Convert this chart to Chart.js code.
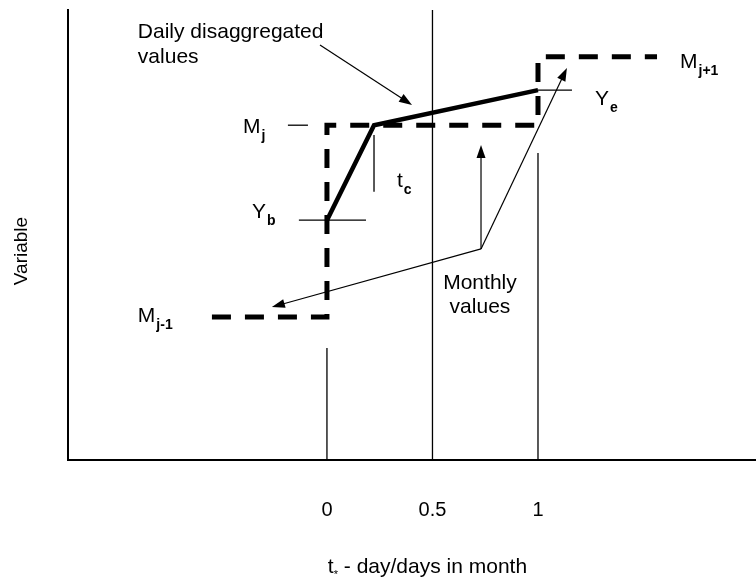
<!DOCTYPE html>
<html>
<head>
<meta charset="utf-8">
<script src="https://cdn.jsdelivr.net/npm/chart.js@4.4.1/dist/chart.umd.min.js"></script>
<style>
  html, body { margin: 0; padding: 0; background: #fff; }
  #wrap { width: 756px; height: 582px; }
</style>
</head>
<body>
<div id="wrap"><canvas id="disaggChart"></canvas></div>
<script>
// t = fraction of month, v = variable (arbitrary units)
const tickValues = [0, 0.5, 1];

const monthlyT = [-0.545, 0, 0, 1, 1, 1.564];
const monthlyV = [3.18, 3.18, 7.44, 7.44, 8.96, 8.96];

const dailyT = [0, 0.223, 1];
const dailyV = [5.33, 7.44, 8.22];

// thin guide segments
const guideT = [[0, 0], [0.5, 0.5], [1, 1], [-0.185, -0.09], [-0.133, 0.185], [0.223, 0.223], [1, 1.161]];
const guideV = [[0, 2.49], [0, 10], [0, 6.82], [7.44, 7.44], [5.33, 5.33], [7.22, 5.96], [8.22, 8.22]];

// arrows: [fromT, fromV, toT, toV]
const arrows = [
  [-0.033, 9.22, 0.403, 7.89],
  [0.730, 4.69, 0.730, 7.0],
  [0.730, 4.69, -0.261, 3.40],
  [0.730, 4.69, 1.137, 8.71]
];

// labels: text, subscript, t, v, align
const labels = [
  ['Daily disaggregated', '', -0.896, 9.38, 'left'],
  ['values', '', -0.896, 8.82, 'left'],
  ['M', 'j', -0.398, 7.27, 'left'],
  ['Y', 'b', -0.355, 5.38, 'left'],
  ['t', 'c', 0.332, 6.07, 'left'],
  ['Y', 'e', 1.270, 7.89, 'left'],
  ['M', 'j+1', 1.673, 8.71, 'left'],
  ['M', 'j-1', -0.896, 3.07, 'left'],
  ['Monthly', '', 0.725, 3.80, 'center'],
  ['values', '', 0.725, 3.27, 'center']
];

const FONT = '"Liberation Sans", Arial, sans-serif';

function toPoints(ts, vs) {
  return ts.map((t, i) => ({ x: t, y: vs[i] }));
}

const datasets = [
  {
    data: toPoints(monthlyT, monthlyV),
    borderColor: '#000',
    borderWidth: 5,
    borderDash: [19, 14],
    borderCapStyle: 'butt',
    borderJoinStyle: 'miter'
  },
  {
    data: toPoints(dailyT, dailyV),
    borderColor: '#000',
    borderWidth: 4.5,
    borderJoinStyle: 'miter'
  }
];
guideT.forEach((ts, i) => {
  datasets.push({
    data: toPoints(ts, guideV[i]),
    borderColor: '#000',
    borderWidth: 1.3
  });
});

const annotations = {
  id: 'annotations',
  afterDraw(chart) {
    const ctx = chart.ctx;
    const xs = chart.scales.x, ys = chart.scales.y;
    ctx.save();
    ctx.strokeStyle = '#000';
    ctx.fillStyle = '#000';
    ctx.lineWidth = 1.2;

    arrows.forEach(a => {
      const x1 = xs.getPixelForValue(a[0]), y1 = ys.getPixelForValue(a[1]);
      const x2 = xs.getPixelForValue(a[2]), y2 = ys.getPixelForValue(a[3]);
      const ang = Math.atan2(y2 - y1, x2 - x1);
      const len = 13, half = 4.5;
      ctx.beginPath();
      ctx.moveTo(x1, y1);
      ctx.lineTo(x2 - Math.cos(ang) * len * 0.8, y2 - Math.sin(ang) * len * 0.8);
      ctx.stroke();
      ctx.beginPath();
      ctx.moveTo(x2, y2);
      ctx.lineTo(x2 - Math.cos(ang) * len - Math.sin(ang) * half, y2 - Math.sin(ang) * len + Math.cos(ang) * half);
      ctx.lineTo(x2 - Math.cos(ang) * len + Math.sin(ang) * half, y2 - Math.sin(ang) * len - Math.cos(ang) * half);
      ctx.closePath();
      ctx.fill();
    });

    ctx.textBaseline = 'alphabetic';
    labels.forEach(l => {
      const x = xs.getPixelForValue(l[2]), y = ys.getPixelForValue(l[3]);
      ctx.font = '21px ' + FONT;
      ctx.textAlign = l[4];
      ctx.fillText(l[0], x, y);
      if (l[1]) {
        const w = ctx.measureText(l[0]).width;
        ctx.font = 'bold 14px ' + FONT;
        ctx.textAlign = 'left';
        ctx.fillText(l[1], x + w + 1, y + 7);
      }
    });

    // x axis title with the small starred t
    const title1 = 't', star = '*', title2 = ' - day/days in month';
    ctx.font = '21px ' + FONT;
    const w1 = ctx.measureText(title1).width;
    const w3 = ctx.measureText(title2).width;
    ctx.font = '11px ' + FONT;
    const w2 = ctx.measureText(star).width;
    const total = w1 + w2 + w3;
    const cx = xs.getPixelForValue(0.5) - 5;
    let tx = cx - total / 2;
    const ty = 573;
    ctx.textAlign = 'left';
    ctx.font = '21px ' + FONT;
    ctx.fillText(title1, tx, ty);
    ctx.font = '11px ' + FONT;
    ctx.fillText(star, tx + w1, ty + 5);
    ctx.font = '21px ' + FONT;
    ctx.fillText(title2, tx + w1 + w2, ty);

    // y axis title
    ctx.save();
    ctx.translate(27, (chart.chartArea.top + chart.chartArea.bottom) / 2 + 16);
    ctx.rotate(-Math.PI / 2);
    ctx.textAlign = 'center';
    ctx.font = '19px ' + FONT;
    ctx.fillText('Variable', 0, 0);
    ctx.restore();

    ctx.restore();
  }
};

new Chart(document.getElementById('disaggChart'), {
  type: 'scatter',
  data: { datasets: datasets },
  options: {
    responsive: true,
    maintainAspectRatio: false,
    animation: false,
    layout: { padding: { top: 10, right: 0, left: 0, bottom: 0 } },
    elements: {
      point: { radius: 0, hoverRadius: 0 },
      line: { tension: 0 }
    },
    datasets: { scatter: { showLine: true } },
    scales: {
      x: {
        type: 'linear',
        min: -1.227,
        max: 2.033,
        afterBuildTicks: scale => { scale.ticks = tickValues.map(v => ({ value: v })); },
        afterFit: scale => { scale.height = 122; },
        grid: { display: false },
        border: { display: true, color: '#000', width: 2 },
        ticks: {
          color: '#000',
          padding: 30,
          maxRotation: 0,
          font: { family: FONT, size: 20 },
          callback: v => String(v)
        }
      },
      y: {
        type: 'linear',
        min: 0,
        max: 10,
        afterFit: scale => { scale.width = 68; },
        grid: { display: false },
        border: { display: true, color: '#000', width: 2 },
        ticks: { display: false }
      }
    },
    plugins: {
      legend: { display: false },
      tooltip: { enabled: false }
    }
  },
  plugins: [annotations]
});
</script>
</body>
</html>
